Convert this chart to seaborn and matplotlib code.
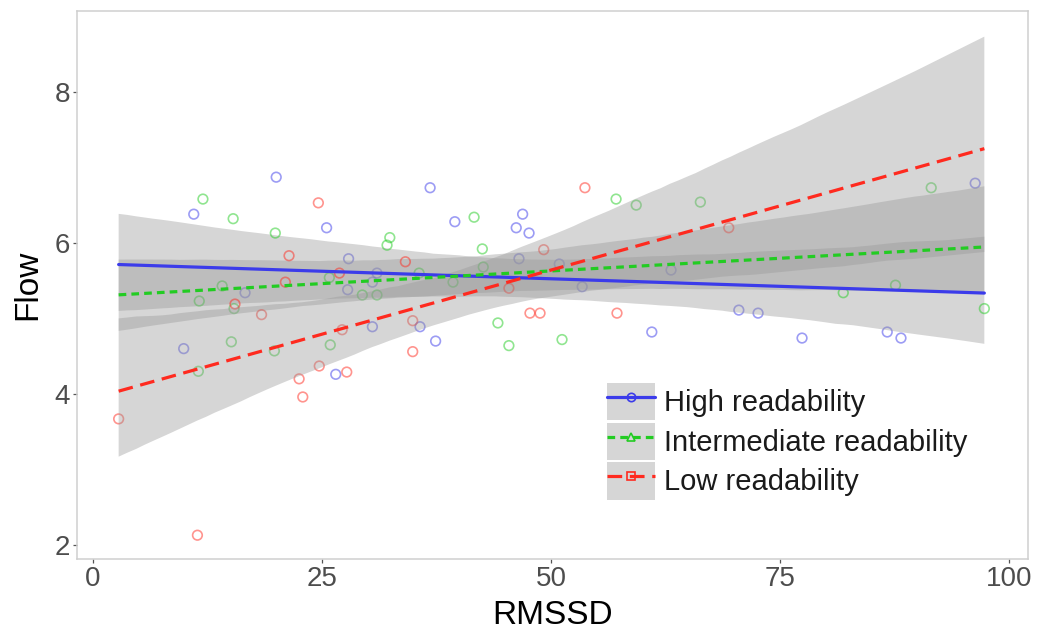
import numpy as np
import pandas as pd
import matplotlib
matplotlib.use("Agg")
import matplotlib.pyplot as plt
from matplotlib.patches import Patch
from matplotlib.lines import Line2D
from matplotlib.legend_handler import HandlerTuple
from matplotlib.collections import PolyCollection
import seaborn as sns

# ---- data ----
high_x = [9.9, 11.0, 16.6, 20.0, 25.5, 27.9, 27.8, 31.0, 30.5, 30.5, 35.7, 37.4, 26.5,
          36.8, 39.5, 46.9, 46.2, 47.6, 46.5, 50.9, 53.4, 63.1, 61.0, 70.5, 72.6, 77.4,
          86.7, 88.2, 96.3]
high_y = [4.60, 6.38, 5.34, 6.87, 6.20, 5.79, 5.38, 5.60, 5.48, 4.89, 4.89, 4.70, 4.26,
          6.73, 6.28, 6.38, 6.20, 6.13, 5.79, 5.72, 5.42, 5.64, 4.82, 5.11, 5.07, 4.74,
          4.82, 4.74, 6.79]

mid_x = [12.0, 15.3, 19.9, 14.1, 11.6, 15.4, 15.1, 19.8, 11.5, 25.8, 32.4, 32.1, 29.4,
         31.0, 25.9, 35.6, 39.3, 41.6, 42.5, 42.6, 44.2, 45.4, 51.2, 57.1, 59.3, 66.3,
         91.5, 87.6, 81.9, 97.3]
mid_y = [6.58, 6.32, 6.13, 5.43, 5.23, 5.13, 4.69, 4.57, 4.30, 5.54, 6.07, 5.97, 5.31,
         5.31, 4.65, 5.60, 5.48, 6.34, 5.92, 5.68, 4.94, 4.64, 4.72, 6.58, 6.50, 6.54,
         6.73, 5.44, 5.34, 5.13]

low_x = [2.8, 11.4, 24.6, 21.4, 21.0, 15.5, 18.4, 24.7, 22.5, 22.9, 26.9, 27.2, 27.7,
         34.1, 34.9, 34.9, 45.4, 47.7, 48.8, 49.2, 53.7, 57.2, 69.4]
low_y = [3.67, 2.13, 6.53, 5.83, 5.48, 5.19, 5.05, 4.37, 4.20, 3.96, 5.60, 4.85, 4.29,
         5.75, 4.97, 4.56, 5.40, 5.07, 5.07, 5.91, 6.73, 5.07, 6.20]

groups = ["High readability", "Intermediate readability", "Low readability"]
x_ticks = [0, 25, 50, 75, 100]
y_ticks = [2, 4, 6, 8]

df = pd.concat([
    pd.DataFrame({"RMSSD": high_x, "Flow": high_y, "group": groups[0]}),
    pd.DataFrame({"RMSSD": mid_x, "Flow": mid_y, "group": groups[1]}),
    pd.DataFrame({"RMSSD": low_x, "Flow": low_y, "group": groups[2]}),
])

# ---- styling ----
sns.set_theme(style="white")
plt.rcParams["font.family"] = ["Liberation Sans", "DejaVu Sans"]

colors = {groups[0]: "#3b3bea", groups[1]: "#22cc22", groups[2]: "#ff2a1f"}
markers = {groups[0]: "o", groups[1]: "^", groups[2]: "s"}
dashes = {groups[0]: "-", groups[1]: (0, (2.4, 1.6)), groups[2]: (0, (4.6, 2.4))}

fig = plt.figure(figsize=(10.4, 6.31), dpi=100)
ax = fig.add_axes([0.074, 0.1141, 0.9145, 0.8685])

# full range of the fitted lines = range of all data
ax.set_xlim(df["RMSSD"].min(), df["RMSSD"].max())
ax.set_ylim(1.815, 9.07)

for g in groups:
    sub = df[df["group"] == g]
    n_before = len(ax.collections)
    sns.regplot(
        data=sub, x="RMSSD", y="Flow", ax=ax, ci=95, n_boot=2000, seed=3,
        truncate=False, color=colors[g],
        scatter_kws=dict(marker=markers[g], facecolors="none", edgecolors=colors[g],
                         linewidths=1.2, s=48, alpha=0.5),
        line_kws=dict(color=colors[g], lw=2.3, linestyle=dashes[g]),
    )
    for c in ax.collections[n_before:]:
        if isinstance(c, PolyCollection):
            c.set_facecolor((0.6, 0.6, 0.6))
            c.set_alpha(0.4)
            c.set_edgecolor("none")

ax.set_xlim(-1.75, 102.07)
ax.set_ylim(1.815, 9.07)
ax.set_xticks(x_ticks)
ax.set_yticks(y_ticks)
ax.set_xticklabels([str(v) for v in x_ticks])
ax.set_yticklabels([str(v) for v in y_ticks])
ax.tick_params(axis="both", which="major", labelsize=20, labelcolor="#4d4d4d",
               color="#555555", length=3, width=0.9, direction="out",
               bottom=True, left=True, pad=2)
ax.set_xlabel("RMSSD", fontsize=24, color="black", labelpad=6)
ax.set_ylabel("Flow", fontsize=24, color="black", labelpad=8)
for s in ax.spines.values():
    s.set_color("#cfcfcf")
    s.set_linewidth(1.1)
ax.grid(False)
ax.set_facecolor("white")

# ---- legend ----
handles = []
for g in groups:
    bg = Patch(facecolor="#d6d6d6", edgecolor="none")
    ln = Line2D([], [], color=colors[g], lw=2.3, linestyle=dashes[g],
                marker=markers[g], markersize=6, markerfacecolor="none",
                markeredgecolor=colors[g], markeredgewidth=1.2)
    handles.append((bg, ln))
leg = ax.legend(handles, groups, handler_map={tuple: HandlerTuple(ndivide=1, pad=0)},
                loc="upper left", bbox_to_anchor=(607 / 1040, 1 - 383 / 631),
                bbox_transform=fig.transFigure, frameon=False, fontsize=21,
                handlelength=1.65, handleheight=1.6, labelspacing=0.07,
                handletextpad=0.3, borderpad=0, borderaxespad=0)
for t in leg.get_texts():
    t.set_color("#1a1a1a")

fig.savefig("out.png", dpi=100)
